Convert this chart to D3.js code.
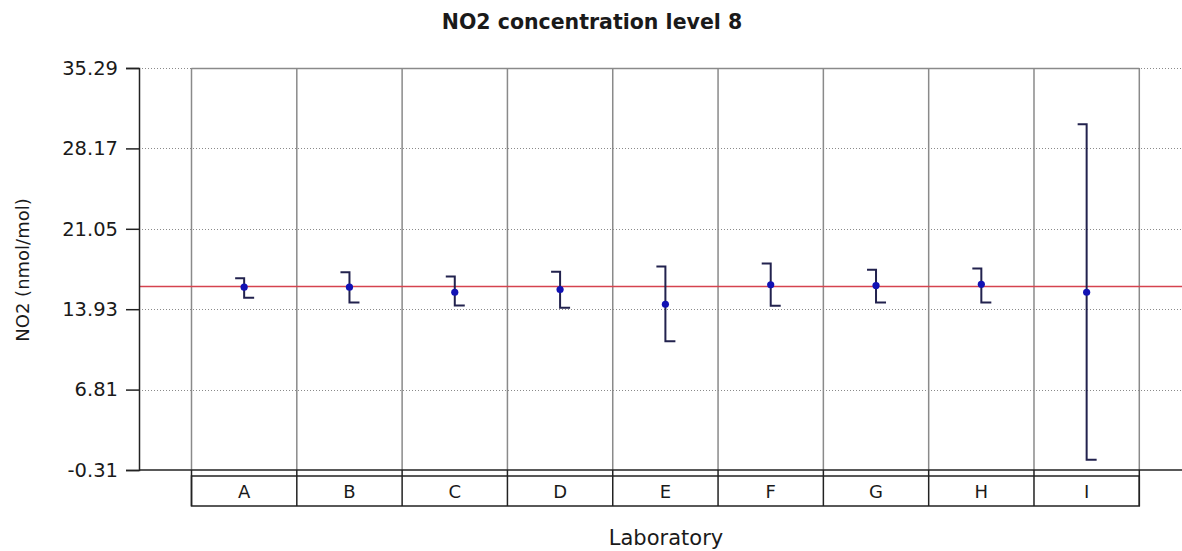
<!DOCTYPE html>
<html>
<head>
<meta charset="utf-8">
<script src="https://cdn.jsdelivr.net/npm/d3@7/dist/d3.min.js"></script>
<style>
  html, body { margin: 0; padding: 0; background: #ffffff; }
  svg { display: block; }
  text { font-family: "DejaVu Sans", Verdana, sans-serif; fill: #1a1a1a; }
</style>
</head>
<body>
<svg id="chart" width="1182" height="551"></svg>
<script>
// ---- data ----
const labs   = ["A", "B", "C", "D", "E", "F", "G", "H", "I"];
const means  = [15.88, 15.88, 15.43, 15.67, 14.37, 16.09, 16.03, 16.14, 15.43];
const upper  = [16.67, 17.20, 16.82, 17.24, 17.71, 17.98, 17.42, 17.53, 30.30];
const lower  = [14.94, 14.52, 14.25, 14.05, 11.09, 14.23, 14.52, 14.52, 0.60];
const refValue = 15.94;
const yTicks = [-0.31, 6.81, 13.93, 21.05, 28.17, 35.29];
const yTickLabels = ["-0.31", "6.81", "13.93", "21.05", "28.17", "35.29"];
const titleText = "NO2 concentration level 8";
const yLabel = "NO2 (nmol/mol)";
const xLabel = "Laboratory";

// ---- layout ----
const W = 1182, H = 551;
const axisX = 139, plotTop = 68, plotBottom = 470;
const bandLeft = 191.5, bandRight = 1139.3;
const boxTop = 476, boxBottom = 506;

const svg = d3.select("#chart");

const y = d3.scaleLinear().domain([yTicks[0], yTicks[yTicks.length - 1]]).range([plotBottom, plotTop]);
const x = d3.scaleBand().domain(labs).range([bandLeft, bandRight]).padding(0);

// horizontal dotted gridlines
svg.append("g").selectAll("line").data(yTicks.slice(1)).join("line")
  .attr("x1", axisX).attr("x2", W)
  .attr("y1", d => Math.round(y(d)) + 0.5).attr("y2", d => Math.round(y(d)) + 0.5)
  .attr("stroke", "#8a8a8a").attr("stroke-width", 1).attr("stroke-dasharray", "1,2");

// top solid border over the band area
svg.append("line")
  .attr("x1", bandLeft).attr("x2", bandRight)
  .attr("y1", Math.round(y(yTicks[yTicks.length - 1])) + 0.5).attr("y2", Math.round(y(yTicks[yTicks.length - 1])) + 0.5)
  .attr("stroke", "#8a8a8a").attr("stroke-width", 1.5);

// vertical band separators
const bounds = labs.map(l => x(l)).concat([x(labs[labs.length - 1]) + x.bandwidth()]);
svg.append("g").selectAll("line").data(bounds).join("line")
  .attr("x1", d => d).attr("x2", d => d)
  .attr("y1", plotTop).attr("y2", plotBottom)
  .attr("stroke", "#8a8a8a").attr("stroke-width", 1.5);

// reference line
svg.append("line")
  .attr("x1", axisX).attr("x2", W)
  .attr("y1", y(refValue)).attr("y2", y(refValue))
  .attr("stroke", "#d5434f").attr("stroke-width", 1.5);

// bottom axis line
svg.append("line")
  .attr("x1", axisX).attr("x2", W)
  .attr("y1", plotBottom).attr("y2", plotBottom)
  .attr("stroke", "#222").attr("stroke-width", 1.5);

// y axis
const yAxis = d3.axisLeft(y).tickValues(yTicks)
  .tickFormat((d, i) => yTickLabels[i]).tickSize(13).tickPadding(8);
const gy = svg.append("g").attr("transform", `translate(${axisX},0)`).call(yAxis);
gy.select(".domain").attr("stroke", "#222").attr("stroke-width", 1.5);
gy.selectAll(".tick line").attr("stroke", "#222").attr("stroke-width", 1.5);
gy.selectAll(".tick text").attr("font-size", 19.5).attr("fill", "#1a1a1a")
  .attr("font-family", "DejaVu Sans, Verdana, sans-serif");

// category boxes
svg.append("rect")
  .attr("x", bandLeft).attr("y", boxTop)
  .attr("width", bandRight - bandLeft).attr("height", boxBottom - boxTop)
  .attr("fill", "none").attr("stroke", "#222").attr("stroke-width", 1.5);
svg.append("g").selectAll("line").data(bounds).join("line")
  .attr("x1", d => d).attr("x2", d => d)
  .attr("y1", plotBottom).attr("y2", boxBottom)
  .attr("stroke", "#222").attr("stroke-width", 1.5);
svg.append("g").selectAll("text").data(labs).join("text")
  .attr("x", d => x(d) + x.bandwidth() / 2)
  .attr("y", (boxTop + boxBottom) / 2 + 7)
  .attr("text-anchor", "middle")
  .attr("font-size", 18)
  .text(d => d);

// error bars
const cap = 9;
const eb = svg.append("g");
labs.forEach((l, i) => {
  const cx = x(l) + x.bandwidth() / 2;
  const yu = y(upper[i]), yl = y(lower[i]);
  eb.append("path")
    .attr("d", `M${cx - cap},${yu} H${cx} V${yl} H${cx + cap + 1}`)
    .attr("fill", "none").attr("stroke", "#22224e").attr("stroke-width", 2);
});
svg.append("g").selectAll("circle").data(labs).join("circle")
  .attr("cx", d => x(d) + x.bandwidth() / 2)
  .attr("cy", (d, i) => y(means[i]))
  .attr("r", 3.6)
  .attr("fill", "#1212b4");

// title
svg.append("text")
  .attr("x", 592).attr("y", 29)
  .attr("text-anchor", "middle")
  .attr("font-size", 20.5).attr("font-weight", "bold")
  .attr("fill", "#111")
  .text(titleText);

// y label
svg.append("text")
  .attr("transform", `translate(29,270) rotate(-90)`)
  .attr("text-anchor", "middle")
  .attr("font-size", 18)
  .text(yLabel);

// x label
svg.append("text")
  .attr("x", 666).attr("y", 545)
  .attr("text-anchor", "middle")
  .attr("font-size", 21)
  .text(xLabel);
</script>
</body>
</html>
